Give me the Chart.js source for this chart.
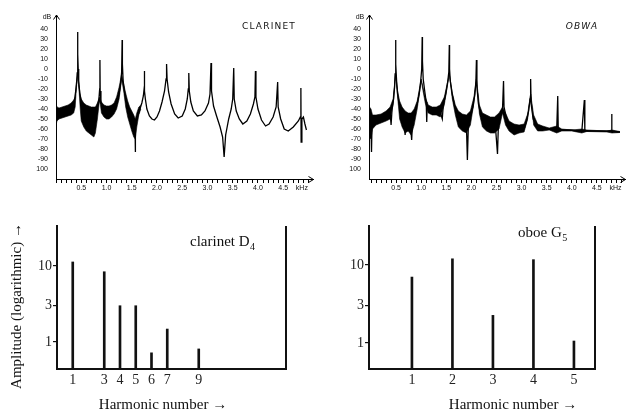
<!DOCTYPE html>
<html><head><meta charset="utf-8">
<script src="https://cdn.jsdelivr.net/npm/chart.js@4.4.0/dist/chart.umd.min.js"></script>
<style>
html,body{margin:0;padding:0;background:#fff;}
#wrap{position:relative;width:626px;height:411px;overflow:hidden;background:#fff;}
canvas{position:absolute;left:0;top:0;}
</style></head><body>
<div id="wrap">
<canvas id="c1" width="626" height="411"></canvas>
<canvas id="c2" width="626" height="411"></canvas>
<canvas id="c3" width="626" height="411"></canvas>
<canvas id="c4" width="626" height="411"></canvas>
</div>
<script>
// ---------- DATA ----------
// Clarinet spectrum (kHz, dB)
const clarinetFreq = [0.00,0.05,0.10,0.15,0.20,0.25,0.30,0.34,0.37,0.39,0.41,0.42,0.425,0.43,0.435,0.44,0.45,0.47,0.50,0.55,0.62,0.70,0.77,0.80,0.83,0.85,0.865,0.87,0.875,0.89,0.93,1.00,1.08,1.15,1.20,1.25,1.28,1.30,1.31,1.315,1.33,1.36,1.40,1.45,1.50,1.55,1.565,1.57,1.575,1.60,1.65,1.70,1.73,1.745,1.75,1.755,1.77,1.80,1.85,1.90,1.95,2.00,2.05,2.10,2.15,2.18,2.19,2.20,2.23,2.28,2.35,2.42,2.50,2.56,2.60,2.62,2.63,2.64,2.67,2.72,2.80,2.88,2.95,3.02,3.05,3.07,3.08,3.12,3.18,3.25,3.30,3.33,3.36,3.42,3.47,3.50,3.52,3.53,3.57,3.63,3.70,3.78,3.85,3.91,3.94,3.95,3.96,4.00,4.07,4.15,4.22,4.30,4.36,4.39,4.40,4.45,4.52,4.60,4.70,4.80,4.84,4.85,4.855,4.87,4.90,4.93,4.96];
const clarinetDb   = [-44,-43,-43,-42,-42,-41,-40,-37,-30,-22,-12,-4,5,37,15,0,-12,-24,-32,-38,-42,-44,-45,-42,-36,-30,-20,9,-22,-33,-39,-42,-42,-40,-35,-25,-15,-3,29,5,-12,-24,-34,-42,-48,-55,-58,-83,-56,-50,-42,-34,-27,-20,-2,-22,-30,-40,-47,-50,-51,-48,-42,-33,-22,-10,5,-10,-23,-35,-45,-49,-47,-40,-30,-20,-4,-22,-33,-42,-47,-46,-42,-34,-25,6,-22,-37,-47,-58,-68,-88,-66,-50,-40,-30,1,-30,-42,-50,-55,-52,-45,-35,-28,-2,-28,-40,-51,-57,-55,-48,-38,-13,-38,-50,-60,-62,-58,-52,-48,-19,-73,-50,-48,-55,-61];
// Clarinet dense-noise band (kHz, upper dB, lower dB)
const clarinetBandFreq  = [0.00,0.02,0.06,0.12,0.18,0.24,0.30,0.35,0.38,0.40,0.43,0.46,0.48,0.50,0.55,0.60,0.65,0.70,0.75,0.78,0.82,0.86,0.88,0.90,0.95,1.00,1.05,1.10,1.15,1.20,1.25,1.30,1.34,1.38,1.42,1.46,1.50,1.54,1.57,1.60,1.64,1.68];
const clarinetBandUpper = [-35,-38,-39,-38,-37,-36,-34,-31,-28,-18,-5,-18,-26,-30,-34,-36,-37,-38,-38,-38,-34,-28,-30,-33,-36,-37,-37,-36,-34,-28,-18,-5,-15,-24,-32,-38,-42,-46,-50,-44,-38,-36];
const clarinetBandLower = [-56,-52,-50,-49,-48,-47,-46,-44,-38,-22,-5,-24,-40,-52,-58,-62,-64,-66,-68,-64,-50,-32,-36,-44,-48,-50,-50,-48,-45,-40,-30,-10,-22,-38,-48,-55,-62,-68,-70,-58,-46,-40];

// Oboe (OBWA) spectrum (kHz, dB)
const oboeFreq = [-0.03,0.005,0.01,0.02,0.05,0.10,0.15,0.20,0.25,0.30,0.35,0.38,0.40,0.42,0.45,0.47,0.48,0.49,0.495,0.51,0.53,0.56,0.60,0.65,0.68,0.70,0.75,0.78,0.81,0.83,0.87,0.92,0.96,0.99,1.01,1.02,1.025,1.04,1.07,1.10,1.11,1.12,1.16,1.22,1.30,1.36,1.42,1.44,1.49,1.53,1.55,1.56,1.565,1.58,1.62,1.67,1.72,1.78,1.85,1.90,1.92,1.94,1.98,2.03,2.07,2.09,2.10,2.11,2.14,2.18,2.24,2.30,2.36,2.42,2.47,2.52,2.54,2.58,2.62,2.64,2.65,2.70,2.77,2.85,2.92,3.00,3.05,3.10,3.14,3.17,3.18,3.19,3.23,3.30,3.40,3.50,3.60,3.70,3.72,3.73,3.80,3.90,4.00,4.10,4.20,4.25,4.26,4.35,4.50,4.65,4.79,4.795,4.80,4.90,4.96];
const oboeDb   = [-40,-70,-83,-55,-53,-51,-50,-49,-48,-46,-45,-43,-56,-40,-30,-18,-5,29,5,-12,-25,-35,-42,-48,-66,-50,-50,-52,-71,-50,-44,-35,-25,-12,0,32,8,-10,-22,-33,-53,-36,-40,-42,-43,-40,-50,-36,-25,-12,-3,24,0,-12,-26,-38,-45,-50,-52,-55,-91,-55,-48,-38,-25,-12,9,-18,-35,-45,-50,-52,-55,-57,-52,-85,-52,-45,-40,-12,-38,-50,-57,-60,-60,-61,-60,-52,-42,-30,-10,-35,-50,-57,-59,-60,-60,-60,-27,-60,-61,-61,-61,-62,-62,-31,-62,-62,-62,-62,-62,-45,-62,-63,-63];
// Oboe dense-noise band
const oboeBandFreq  = [-0.03,0.00,0.03,0.10,0.20,0.30,0.38,0.44,0.49,0.53,0.57,0.62,0.68,0.74,0.80,0.86,0.92,1.00,1.08,1.14,1.22,1.30,1.38,1.46,1.56,1.62,1.68,1.74,1.82,1.90,1.98,2.05,2.10,2.16,2.22,2.30,2.38,2.46,2.55,2.62,2.68,2.75,2.85,2.95,3.05,3.12,3.18,3.24,3.32,3.42,3.55,3.70,3.80,4.00,4.20,4.30,4.70,4.80,4.96];
const oboeBandUpper = [-38,-40,-46,-46,-45,-42,-38,-30,-5,-22,-32,-38,-42,-44,-44,-40,-32,-10,-28,-36,-38,-38,-36,-28,-5,-24,-36,-42,-45,-46,-42,-28,-10,-36,-44,-46,-48,-48,-44,-38,-44,-52,-55,-56,-55,-45,-25,-46,-55,-57,-59,-57,-60,-61,-60,-61,-62,-61,-62.5];
const oboeBandLower = [-68,-70,-60,-56,-54,-52,-50,-36,-5,-28,-50,-58,-64,-62,-66,-56,-40,-12,-34,-44,-46,-46,-48,-36,-5,-30,-46,-58,-62,-64,-56,-34,-10,-45,-58,-62,-64,-64,-60,-44,-56,-62,-66,-64,-63,-50,-25,-56,-62,-62,-61,-64,-62,-62,-64,-62.5,-63,-64,-63.5];

// Spectrum axis ticks
const dbTickValues = [40,30,20,10,0,-10,-20,-30,-40,-50,-60,-70,-80,-90,-100];
const freqTickValues = [0.5,1.0,1.5,2.0,2.5,3.0,3.5,4.0,4.5];
const freqTickLabels = ['0.5','1.0','1.5','2.0','2.5','3.0','3.5','4.0','4.5'];

// Harmonic amplitudes (logarithmic)
const clarinetHarmonics = [1,3,4,5,6,7,9];
const clarinetAmps      = [11.3,8.4,3.0,3.0,0.72,1.48,0.81];
const oboeHarmonics     = [1,2,3,4,5];
const oboeAmps          = [7.0,12.0,2.26,11.7,1.06];
const ampTickValues     = [1,3,10];
const ampTickLabels     = ['1','3','10'];

// ---------- LAYOUT / DRAWING ----------
const W = 626, H = 411;
function pad(a, yw, xh){ return {left:a.left-yw, top:a.top, right:W-a.right, bottom:H-a.bottom-xh}; }

const decorPlugin = {
  id:'decor',
  afterDraw(chart, args, o){
    const ctx = chart.ctx, a = chart.chartArea;
    ctx.save();
    ctx.strokeStyle = '#000'; ctx.fillStyle = '#000';
    if (o.arrows){
      ctx.lineWidth = 1;
      ctx.beginPath();
      ctx.moveTo(a.left-2.5, a.top+4.5); ctx.lineTo(a.left+0.5, a.top); ctx.lineTo(a.left+3.5, a.top+4.5);
      ctx.moveTo(a.right-4.5, a.bottom-2.5); ctx.lineTo(a.right+0.5, a.bottom+0.5); ctx.lineTo(a.right-4.5, a.bottom+3.5);
      ctx.stroke();
    }
    if (o.rightLine){
      ctx.lineWidth = 2; ctx.strokeStyle = '#111';
      ctx.beginPath(); ctx.moveTo(a.right, a.top); ctx.lineTo(a.right, a.bottom+1); ctx.stroke();
    }
    (o.texts||[]).forEach(t=>{
      ctx.save();
      ctx.font = t.font; ctx.fillStyle = t.color || '#111';
      ctx.textAlign = t.align || 'left'; ctx.textBaseline = 'middle';
      if (t.spacing) ctx.letterSpacing = t.spacing;
      const x = (t.xVal !== undefined) ? chart.scales.x.getPixelForValue(t.xVal) : t.x;
      ctx.translate(x, t.y);
      if (t.rot) ctx.rotate(t.rot);
      ctx.fillText(t.text, 0, 0);
      if (t.sub){
        const w = ctx.measureText(t.text).width;
        ctx.font = t.subFont; ctx.textAlign = 'left';
        ctx.fillText(t.sub, w + 0.5, 5);
      }
      ctx.restore();
    });
    ctx.restore();
  }
};

function spectrumChart(id, area, xMin, xMax, freq, db, bf, bu, bl, texts){
  return new Chart(document.getElementById(id), {
    type:'line',
    data:{datasets:[
      {data: freq.map((f,i)=>({x:f, y:db[i]})), borderColor:'#000', borderWidth:1.3, pointRadius:0, tension:0, fill:false},
      {data: bf.map((f,i)=>({x:f, y:bu[i]})), borderColor:'#000', borderWidth:0.6, pointRadius:0, tension:0, fill:false},
      {data: bf.map((f,i)=>({x:f, y:bl[i]})), borderColor:'#000', borderWidth:0.6, pointRadius:0, tension:0, fill:'-1', backgroundColor:'#000'}
    ]},
    options:{
      responsive:false, animation:false, events:[], devicePixelRatio:1,
      layout:{padding: pad(area, 20, 20)},
      plugins:{legend:{display:false}, tooltip:{enabled:false}, decor:{arrows:true, texts:texts}},
      scales:{
        x:{type:'linear', min:xMin, max:xMax,
          afterFit:s=>{ s.height = 20; },
          afterBuildTicks:s=>{ const t=[]; for(let k=0;k<=50;k++) t.push({value:k/10}); s.ticks=t; },
          grid:{display:true, drawOnChartArea:false, drawTicks:true, tickLength:4, color:'#000', lineWidth:1},
          border:{display:true, color:'#000', width:1},
          ticks:{autoSkip:false, maxRotation:0, minRotation:0, padding:1, color:'#111',
            font:{family:'Liberation Sans', size:7},
            callback:(v)=>{ const i = freqTickValues.indexOf(Math.round(v*10)/10); return i>=0 ? freqTickLabels[i] : ''; }}
        },
        y:{type:'linear', min:-110, max:54,
          afterFit:s=>{ s.width = 20; },
          afterBuildTicks:s=>{ s.ticks = dbTickValues.map(v=>({value:v})); },
          grid:{display:true, drawOnChartArea:false, drawTicks:false},
          border:{display:true, color:'#000', width:1},
          ticks:{padding:8, color:'#111', font:{family:'Liberation Sans', size:7}, callback:(v)=>String(v)}
        }
      }
    },
    plugins:[decorPlugin]
  });
}

function harmonicChart(id, area, xMin, xMax, yMin, yMax, harm, amp, texts){
  return new Chart(document.getElementById(id), {
    type:'bar',
    data:{datasets:[{data: harm.map((h,i)=>({x:h, y:amp[i]})), backgroundColor:'#111', borderWidth:0, barThickness:2}]},
    options:{
      responsive:false, animation:false, events:[], devicePixelRatio:1,
      layout:{padding: pad(area, 30, 25)},
      plugins:{legend:{display:false}, tooltip:{enabled:false}, decor:{rightLine:true, texts:texts}},
      scales:{
        x:{type:'linear', offset:false, min:xMin, max:xMax,
          afterFit:s=>{ s.height = 25; },
          afterBuildTicks:s=>{ s.ticks = harm.map(v=>({value:v})); },
          grid:{display:false, drawTicks:false, offset:false},
          border:{display:true, color:'#111', width:2},
          ticks:{autoSkip:false, maxRotation:0, minRotation:0, padding:3, color:'#222',
            font:{family:'Liberation Serif', size:14}, callback:(v)=>String(v)}
        },
        y:{type:'logarithmic', min:yMin, max:yMax,
          afterFit:s=>{ s.width = 30; },
          afterBuildTicks:s=>{ s.ticks = ampTickValues.map(v=>({value:v})); },
          grid:{display:true, drawOnChartArea:false, drawTicks:true, tickLength:4, color:'#111', lineWidth:1.2},
          border:{display:true, color:'#111', width:2},
          ticks:{padding:1, color:'#222', font:{family:'Liberation Serif', size:14},
            callback:(v)=>{ const i = ampTickValues.indexOf(v); return i>=0 ? ampTickLabels[i] : ''; }}
        }
      }
    },
    plugins:[decorPlugin]
  });
}

spectrumChart('c1', {left:56, top:15, right:313, bottom:179}, 0, 5.09,
  clarinetFreq, clarinetDb, clarinetBandFreq, clarinetBandUpper, clarinetBandLower,
  [{text:'dB', x:47, y:17, font:'7px "Liberation Sans"', align:'center'},
   {text:'CLARINET', x:269, y:27, font:'9px "DejaVu Sans"', spacing:'1.2px', align:'center'},
   {text:'kHz', xVal:4.87, y:188, font:'7px "Liberation Sans"', align:'center', color:'#111'}]);

spectrumChart('c2', {left:369, top:15, right:625, bottom:179}, -0.04, 5.06,
  oboeFreq, oboeDb, oboeBandFreq, oboeBandUpper, oboeBandLower,
  [{text:'dB', x:360, y:17, font:'7px "Liberation Sans"', align:'center'},
   {text:'OBWA', x:582, y:27, font:'italic 9px "DejaVu Sans"', spacing:'1.2px', align:'center'},
   {text:'kHz', xVal:4.87, y:188, font:'7px "Liberation Sans"', align:'center', color:'#111'}]);

harmonicChart('c3', {left:57, top:226, right:286, bottom:369}, 0, 14.54, 0.441, 33.6,
  clarinetHarmonics, clarinetAmps,
  [{text:'Amplitude (logarithmic) →', x:17, y:306, rot:-Math.PI/2, font:'15px "Liberation Serif"', align:'center'},
   {text:'Harmonic number →', x:163, y:405, font:'15px "Liberation Serif"', align:'center'},
   {text:'clarinet D', sub:'4', x:190, y:242, font:'15px "Liberation Serif"', subFont:'10px "Liberation Serif"'}]);

harmonicChart('c4', {left:369, top:226, right:595, bottom:369}, -0.06, 5.52, 0.464, 31.6,
  oboeHarmonics, oboeAmps,
  [{text:'Harmonic number →', x:513, y:405, font:'15px "Liberation Serif"', align:'center'},
   {text:'oboe G', sub:'5', x:518, y:233, font:'15px "Liberation Serif"', subFont:'10px "Liberation Serif"'}]);
</script>
</body></html>
